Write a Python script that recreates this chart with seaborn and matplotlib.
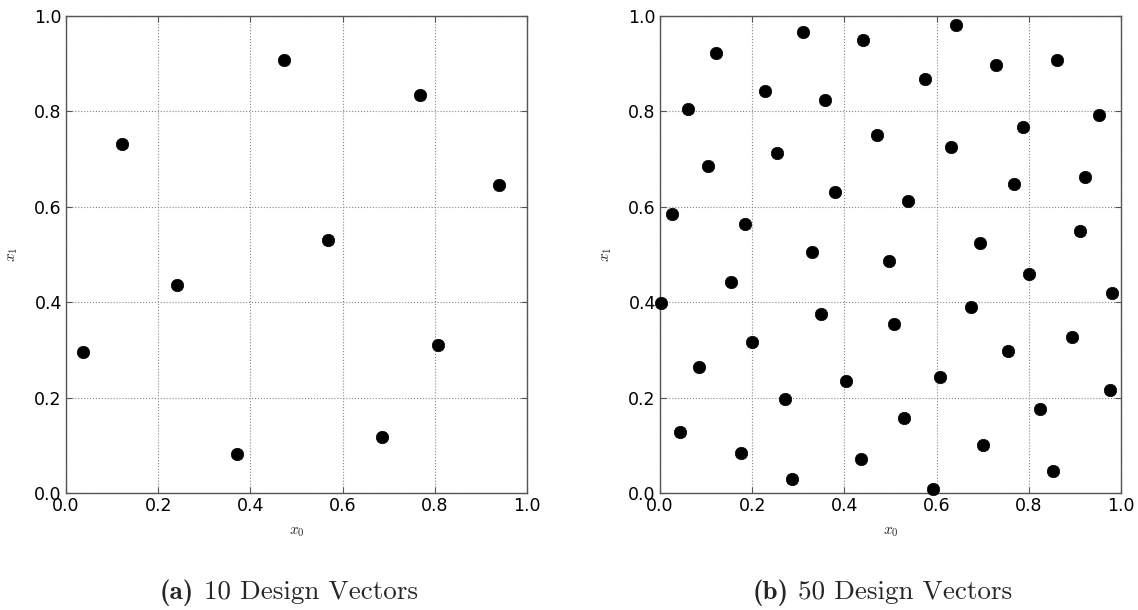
import matplotlib
matplotlib.use("Agg")
import matplotlib.pyplot as plt
from matplotlib.offsetbox import AnchoredOffsetbox, HPacker, TextArea
import seaborn as sns
import pandas as pd

# Sample design vectors (x0, x1) for two space-filling designs
x0_10 = [0.036, 0.122, 0.241, 0.371, 0.474, 0.568, 0.686, 0.768, 0.807, 0.939]
x1_10 = [0.296, 0.732, 0.435, 0.082, 0.907, 0.531, 0.117, 0.834, 0.310, 0.645]

x0_50 = [0.002, 0.025, 0.044, 0.060, 0.085, 0.103, 0.122, 0.153, 0.176, 0.184,
         0.200, 0.227, 0.253, 0.271, 0.287, 0.311, 0.330, 0.349, 0.358, 0.380,
         0.403, 0.436, 0.440, 0.471, 0.497, 0.507, 0.529, 0.539, 0.574, 0.593,
         0.608, 0.632, 0.642, 0.675, 0.694, 0.700, 0.728, 0.754, 0.769, 0.787,
         0.800, 0.825, 0.853, 0.861, 0.894, 0.911, 0.923, 0.952, 0.977, 0.981]
x1_50 = [0.399, 0.585, 0.127, 0.804, 0.264, 0.685, 0.922, 0.443, 0.084, 0.563,
         0.316, 0.842, 0.713, 0.197, 0.029, 0.966, 0.505, 0.376, 0.824, 0.631,
         0.234, 0.071, 0.950, 0.750, 0.487, 0.354, 0.157, 0.612, 0.868, 0.008,
         0.244, 0.726, 0.981, 0.389, 0.524, 0.100, 0.897, 0.298, 0.648, 0.768,
         0.460, 0.176, 0.047, 0.908, 0.327, 0.550, 0.662, 0.792, 0.216, 0.420]

ticks = [0.0, 0.2, 0.4, 0.6, 0.8, 1.0]
caption_tags = ["(a)", "(b)"]
caption_texts = ["10 Design Vectors", "50 Design Vectors"]

sns.set_theme(style="white", rc={
    "xtick.direction": "in", "ytick.direction": "in",
    "xtick.top": True, "ytick.right": True,
    "xtick.major.size": 4, "ytick.major.size": 4,
    "xtick.major.width": 0.8, "ytick.major.width": 0.8,
    "xtick.bottom": True, "ytick.left": True,
    "axes.edgecolor": "#555555", "axes.linewidth": 1.0,
    "xtick.color": "#555555", "ytick.color": "#555555",
    "xtick.labelcolor": "black", "ytick.labelcolor": "black",
})
plt.rcParams["font.family"] = ["DejaVu Sans"]
plt.rcParams["mathtext.fontset"] = "cm"

fig = plt.figure(figsize=(11.38, 6.10), dpi=100)
axes = [fig.add_axes([0.058, 0.1918, 0.405, 0.782]),
        fig.add_axes([0.580, 0.1918, 0.405, 0.782])]

datasets = [pd.DataFrame({"x0": x0_10, "x1": x1_10}),
            pd.DataFrame({"x0": x0_50, "x1": x1_50})]

for ax, df in zip(axes, datasets):
    sns.scatterplot(data=df, x="x0", y="x1", ax=ax, color="black",
                    s=80, edgecolor="black", linewidth=0.5, zorder=3,
                    clip_on=False)
    ax.set_xlim(0, 1)
    ax.set_ylim(0, 1)
    ax.set_xticks(ticks)
    ax.set_yticks(ticks)
    ax.set_xticklabels([f"{t:.1f}" for t in ticks])
    ax.set_yticklabels([f"{t:.1f}" for t in ticks])
    ax.tick_params(labelsize=12.5, pad=3)
    ax.grid(True, linestyle=":", color="#888888", linewidth=0.8)
    ax.set_axisbelow(True)
    ax.set_xlabel(r"$x_0$", fontsize=11, labelpad=6)
    ax.set_ylabel(r"$x_1$", fontsize=11, labelpad=10)

# Subfigure captions beneath each panel: bold tag followed by roman text
for tag, text, xc in zip(caption_tags, caption_texts, [0.2537, 0.7756]):
    parts = HPacker(children=[
        TextArea(tag, textprops=dict(family="cmb10", size=19.5)),
        TextArea(text, textprops=dict(family="cmr10", size=19.5)),
    ], align="baseline", pad=0, sep=7)
    box = AnchoredOffsetbox(loc="lower center", child=parts, pad=0,
                            frameon=False, bbox_to_anchor=(xc, 0.006),
                            bbox_transform=fig.transFigure, borderpad=0)
    fig.add_artist(box)

fig.savefig("out.png", dpi=100)
